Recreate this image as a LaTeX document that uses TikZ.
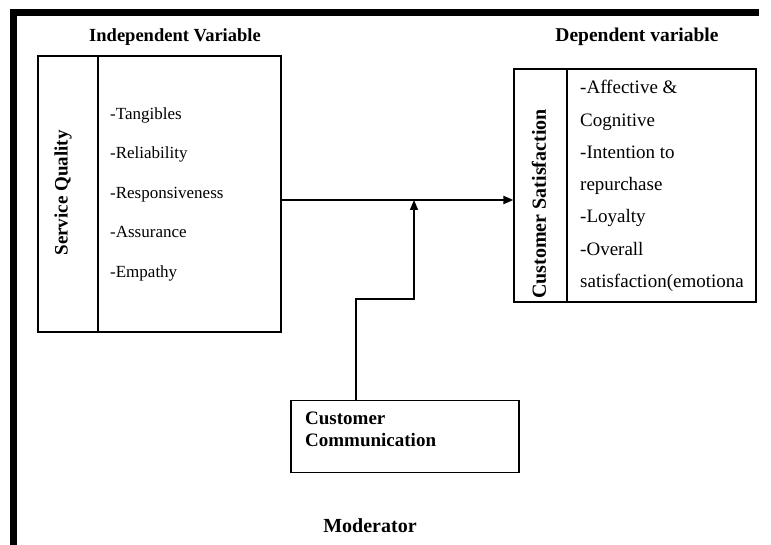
\documentclass[tikz,border=0pt]{standalone}
\usepackage{fontspec}
\setmainfont{Liberation Serif}
\usetikzlibrary{arrows.meta}
\begin{document}
\begin{tikzpicture}[x=1pt,y=-1pt,
  cell/.style={draw=black,line width=1.2pt,inner sep=0pt},
  headtext/.style={font=\fontsize{18.5}{22}\selectfont\bfseries,inner sep=0pt},
  sidetext/.style={font=\fontsize{19}{22}\selectfont\bfseries,inner sep=0pt,rotate=90},
  leftitems/.style={font=\fontsize{17}{39.5}\selectfont,inner sep=0pt,align=left,anchor=west},
  rightitems/.style={font=\fontsize{19}{32.3}\selectfont,inner sep=0pt,align=left,anchor=west},
  mainarrow/.style={line width=2pt,-{Triangle[length=10pt,width=8pt]}},
  modarrow/.style={line width=1.3pt,-{Triangle[length=10pt,width=8pt]}}]
\useasboundingbox (0,0) rectangle (771,545);
% frame
\draw[line width=7pt] (13,545) -- (13,13) -- (759,13);
% titles
\node[headtext] (ivt) at (175,37) {Independent Variable};
\node[headtext,font=\fontsize{19.5}{22}\selectfont\bfseries] (dvt) at (637,37) {Dependent variable};
% left box
\node[cell,minimum width=60pt,minimum height=276pt] (sqlab) at (68,194) {};
\node[cell,minimum width=183pt,minimum height=276pt] (sqbox) at (189.5,194) {};
\node[sidetext] (sqt) at (63,193) {Service Quality};
\node[leftitems] (sqi) at (110,194) {-Tangibles\\-Reliability\\-Responsiveness\\-Assurance\\-Empathy};
% right box
\node[cell,minimum width=53pt,minimum height=233pt] (cslab) at (540.5,185.5) {};
\node[cell,minimum width=189pt,minimum height=233pt] (csbox) at (661.5,185.5) {};
\node[sidetext,font=\fontsize{20}{22}\selectfont\bfseries] (cst) at (539,204) {Customer Satisfaction};
\node[rightitems] (csi) at (580,186) {-Affective \&\\Cognitive\\-Intention to\\repurchase\\-Loyalty\\-Overall\\satisfaction(emotiona};
% moderator box
\node[cell,minimum width=228pt,minimum height=72pt] (cc) at (405,436.7) {};
\node[font=\fontsize{19}{22}\selectfont\bfseries,inner sep=0pt,align=left,anchor=west] (cct) at (305,429) {Customer\\Communication};
\node[font=\fontsize{20}{22}\selectfont\bfseries,inner sep=0pt] (mod) at (370,525.7) {Moderator};
% connectors
\coordinate (j) at (414,200);
\coordinate (b1) at (356,299);
\coordinate (b2) at (414,299);
\draw[mainarrow] (sqbox.east |- j) -- (cslab.west |- j);
\draw[modarrow] (cc.north -| b1) -- (b1) -- (b2) -- (j);
\end{tikzpicture}
\end{document}
